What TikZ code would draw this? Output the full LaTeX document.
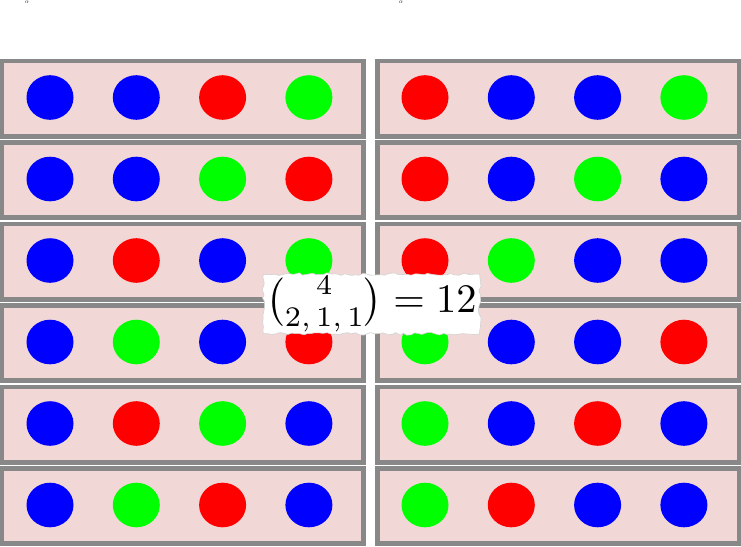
\documentclass[tikz,border=0pt]{standalone}
\usepackage{graphicx}
\usepackage{amsmath}
\usetikzlibrary{shapes.geometric,decorations.pathmorphing}
\definecolor{boxpink}{RGB}{242,215,215}
\definecolor{boxgray}{RGB}{136,136,136}
\definecolor{cb}{RGB}{0,0,255}
\definecolor{cr}{RGB}{255,0,0}
\definecolor{cg}{RGB}{0,255,0}
\begin{document}
\begin{tikzpicture}[x=1pt,y=-1pt,
  rowbox/.style={draw=boxgray, fill=boxpink, line width=4.7pt, minimum width=361.8pt, minimum height=75.3pt, inner sep=0pt},
  ball/.style={ellipse, minimum width=47pt, minimum height=44.6pt, inner sep=0pt, draw=none},
  tiny/.style={inner sep=0pt},
  tornlabel/.style={fill=white, draw=black!18, line width=0.6pt, decorate, decoration={random steps, segment length=4pt, amplitude=1.3pt}, inner xsep=3pt, inner ysep=2pt}]
\useasboundingbox (0,0) rectangle (741,546);
\node[tiny] (alphaL) at (27,2.2) {\scalebox{0.6}{$\alpha$}};
\node[tiny] (alphaR) at (401,2.2) {\scalebox{0.6}{$\alpha$}};
% left column
\foreach \r/\a/\b/\c/\d in {0/cb/cb/cr/cg, 1/cb/cb/cg/cr, 2/cb/cr/cb/cg, 3/cb/cg/cb/cr, 4/cb/cr/cg/cb, 5/cb/cg/cr/cb}{
  \node[rowbox] (L\r) at (182.75, 98.5+81.5*\r) {};
  \node[ball, fill=\a] (L\r-1) at (50, 97.5+81.5*\r) {};
  \node[ball, fill=\b] (L\r-2) at (136.3, 97.5+81.5*\r) {};
  \node[ball, fill=\c] (L\r-3) at (222.6, 97.5+81.5*\r) {};
  \node[ball, fill=\d] (L\r-4) at (308.9, 97.5+81.5*\r) {};
}
% right column
\foreach \r/\a/\b/\c/\d in {0/cr/cb/cb/cg, 1/cr/cb/cg/cb, 2/cr/cg/cb/cb, 3/cg/cb/cb/cr, 4/cg/cb/cr/cb, 5/cg/cr/cb/cb}{
  \node[rowbox] (R\r) at (558.25, 98.5+81.5*\r) {};
  \node[ball, fill=\a] (R\r-1) at (425, 97.5+81.5*\r) {};
  \node[ball, fill=\b] (R\r-2) at (511.3, 97.5+81.5*\r) {};
  \node[ball, fill=\c] (R\r-3) at (597.6, 97.5+81.5*\r) {};
  \node[ball, fill=\d] (R\r-4) at (683.9, 97.5+81.5*\r) {};
}
\pgfmathsetseed{7}
\node[tornlabel] (mult) at (371.5,304) {\scalebox{4.05}{$\binom{4}{2,\,1,\,1}=12$}};
\end{tikzpicture}
\end{document}
